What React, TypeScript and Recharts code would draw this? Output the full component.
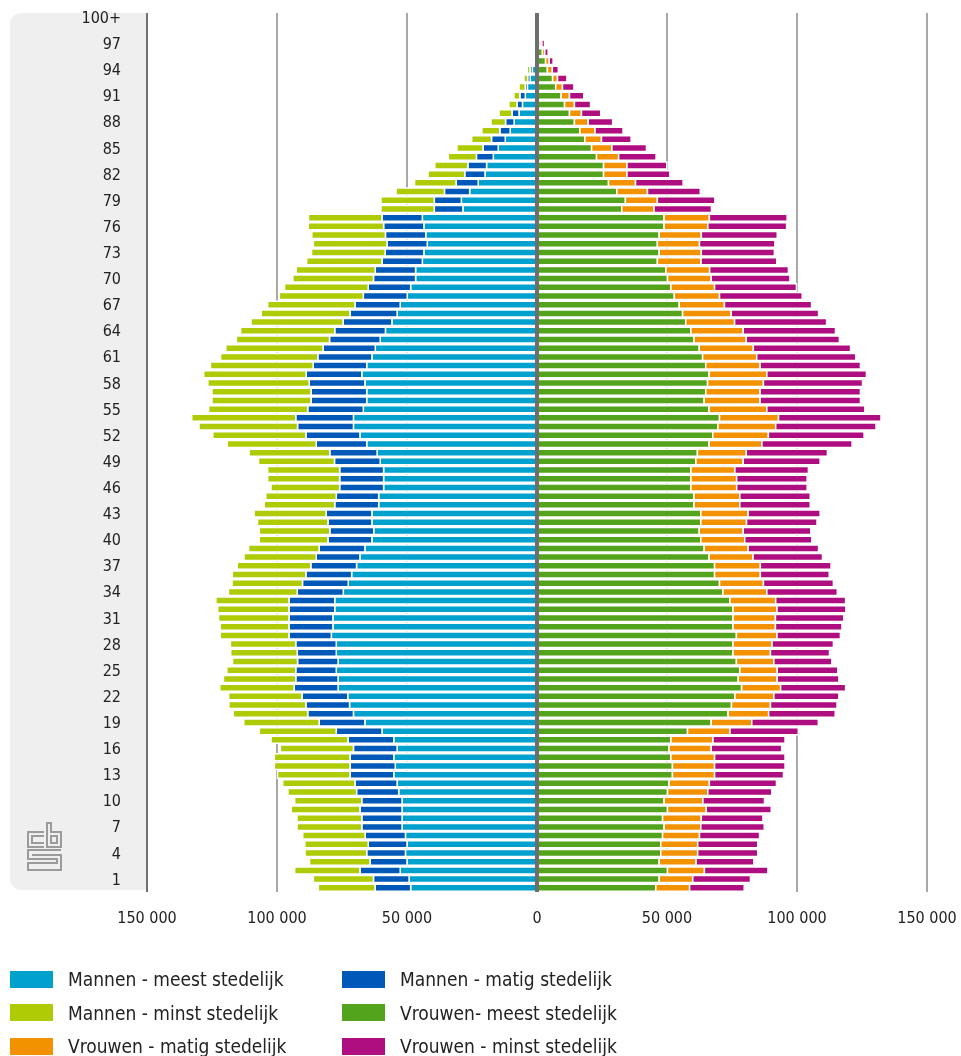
import React from "react";
import {
  BarChart,
  Bar,
  XAxis,
  YAxis,
  CartesianGrid,
  ReferenceLine,
} from "recharts";

// ages 0 .. 100+ (index = age), values in thousands
const ages: string[] = Array.from({ length: 101 }, (_, i) => (i === 100 ? "100+" : String(i)));

const mannenMeest = [
  48.6, 49.2, 52.6, 50.0, 50.6, 50.0, 50.6, 51.9, 51.9, 51.9,
  51.9, 53.2, 53.8, 55.1, 54.5, 55.1, 53.8, 55.1, 59.6, 66.2,
  70.6, 72.1, 72.8, 76.5, 76.5, 77.2, 76.5, 77.2, 77.2, 79.1,
  78.5, 78.5, 77.8, 77.8, 74.5, 72.6, 71.3, 69.4, 68.1, 66.2,
  63.5, 62.8, 63.5, 63.5, 60.9, 60.9, 59.0, 59.0, 59.0, 60.3,
  61.5, 65.5, 68.1, 70.6, 70.6, 66.8, 65.5, 65.5, 66.2, 67.4,
  65.5, 63.5, 62.2, 60.3, 58.3, 55.8, 53.8, 52.6, 49.9, 48.6,
  46.7, 46.7, 44.1, 43.5, 42.2, 42.8, 43.5, 44.1, 28.5, 29.1,
  25.9, 22.6, 20.0, 19.4, 16.8, 14.9, 12.2, 10.3, 8.8, 6.9,
  5.6, 4.5, 3.7, 2.6, 1.8, 1.0, 0.6, 0.4, 0.2, 0.1, 0.1,
];
const mannenMatig = [
  13.7, 13.7, 15.5, 14.2, 14.9, 14.9, 15.5, 15.5, 15.5, 16.2,
  15.5, 16.2, 16.2, 16.8, 17.4, 16.8, 16.8, 17.6, 17.6, 17.6,
  17.6, 16.8, 17.6, 16.9, 16.3, 15.6, 15.6, 15.0, 15.6, 16.3,
  16.9, 16.9, 17.6, 17.6, 17.7, 17.6, 17.6, 17.6, 16.8, 17.6,
  16.9, 16.9, 16.9, 17.6, 16.9, 16.3, 16.9, 16.9, 16.9, 17.6,
  18.2, 19.4, 20.8, 21.5, 22.2, 21.4, 21.4, 21.4, 21.4, 21.4,
  20.6, 20.8, 20.1, 19.5, 19.5, 18.8, 18.1, 17.4, 16.9, 16.3,
  16.2, 15.5, 15.5, 14.9, 15.5, 15.5, 15.5, 15.5, 11.0, 10.4,
  9.7, 8.5, 7.8, 7.2, 6.5, 5.9, 5.3, 4.0, 3.3, 2.7,
  2.1, 2.1, 0.8, 1.0, 0.9, 0.4, 0.2, 0.1, 0.1, 0, 0,
];
const mannenMinst = [
  21.8, 23.1, 25.1, 23.3, 23.7, 24.4, 24.0, 24.9, 24.9, 26.4,
  25.8, 26.4, 27.8, 27.9, 29.1, 29.1, 28.1, 29.6, 29.6, 29.0,
  28.6, 29.6, 28.2, 28.6, 27.8, 26.5, 25.0, 25.6, 25.1, 26.4,
  26.4, 27.1, 27.4, 28.1, 26.5, 27.1, 28.3, 28.3, 27.8, 27.1,
  26.4, 27.1, 27.1, 27.7, 27.1, 27.1, 26.4, 27.7, 27.7, 29.2,
  31.0, 34.2, 35.8, 37.9, 40.0, 38.1, 38.1, 38.1, 39.0, 39.4,
  39.5, 37.4, 37.4, 35.8, 36.2, 35.4, 34.2, 33.6, 32.3, 32.2,
  31.0, 30.4, 29.0, 28.3, 28.3, 28.3, 29.0, 28.3, 20.5, 20.5,
  18.6, 16.0, 14.1, 12.7, 10.8, 10.0, 7.6, 6.9, 5.6, 5.0,
  3.1, 2.3, 2.4, 1.4, 1.0, 0.5, 0.3, 0.2, 0.1, 0, 0,
];
const vrouwenMeest = [
  45.7, 47.0, 50.2, 47.0, 47.6, 47.6, 48.3, 48.9, 48.3, 50.2,
  48.9, 50.2, 50.8, 52.1, 52.1, 51.5, 50.8, 51.5, 57.9, 67.0,
  73.5, 74.8, 76.1, 78.7, 77.4, 78.0, 76.7, 75.4, 75.4, 76.7,
  75.4, 75.4, 75.4, 74.2, 71.5, 70.2, 68.3, 68.3, 66.2, 64.3,
  63.0, 62.4, 63.0, 63.0, 60.4, 60.4, 59.2, 59.2, 59.2, 61.1,
  61.7, 66.2, 67.6, 69.6, 70.2, 66.2, 64.3, 64.9, 65.6, 66.2,
  64.9, 63.7, 62.4, 60.4, 59.2, 57.2, 56.0, 54.7, 52.8, 51.5,
  50.2, 49.6, 46.3, 47.0, 46.3, 47.0, 48.9, 48.9, 32.6, 34.0,
  30.7, 27.5, 25.6, 25.6, 22.9, 21.0, 18.4, 16.5, 14.4, 12.5,
  10.6, 9.3, 7.2, 6.0, 4.0, 3.3, 2.1, 1.2, 0.6, 0.3, 0.3,
];
const vrouwenMatig = [
  13.0, 12.9, 14.2, 14.2, 14.2, 14.2, 14.2, 14.1, 14.9, 14.9,
  14.9, 15.5, 15.5, 16.2, 16.2, 16.8, 16.2, 16.2, 16.3, 15.6,
  15.6, 15.0, 15.0, 15.0, 15.0, 14.4, 14.4, 14.4, 15.0, 15.6,
  16.3, 16.3, 16.9, 17.6, 16.9, 16.9, 17.6, 17.6, 16.9, 16.9,
  16.9, 16.9, 17.6, 18.2, 17.6, 17.6, 17.6, 17.6, 16.9, 18.2,
  18.8, 20.3, 21.4, 22.2, 22.7, 22.2, 21.5, 20.9, 21.5, 22.2,
  20.9, 20.8, 20.8, 20.1, 20.1, 18.8, 18.7, 17.4, 17.4, 16.8,
  16.8, 16.8, 16.8, 16.2, 16.2, 16.2, 16.8, 17.4, 12.4, 12.3,
  11.8, 10.4, 9.0, 9.0, 8.5, 7.8, 6.4, 5.8, 5.3, 4.6,
  3.8, 3.2, 2.6, 1.9, 1.9, 1.4, 0.9, 0.7, 0.3, 0.2, 0.1,
];
const vrouwenMinst = [
  21.0, 22.2, 24.4, 22.2, 23.1, 23.1, 23.1, 24.4, 23.7, 25.0,
  23.7, 24.6, 25.8, 26.5, 27.1, 27.1, 27.1, 27.7, 26.3, 25.6,
  25.6, 25.6, 25.0, 25.0, 23.7, 23.3, 22.3, 22.7, 23.6, 24.4,
  25.6, 26.3, 26.5, 26.9, 27.1, 26.9, 26.5, 27.2, 26.7, 27.1,
  25.8, 26.0, 27.1, 27.7, 27.1, 27.1, 27.1, 27.1, 28.3, 29.6,
  31.2, 34.7, 36.8, 38.6, 39.4, 37.7, 38.6, 38.6, 38.1, 38.3,
  38.6, 38.1, 37.4, 35.8, 35.5, 35.4, 33.6, 33.5, 31.8, 31.5,
  30.3, 30.3, 29.1, 28.1, 29.0, 29.2, 30.3, 29.9, 22.1, 22.1,
  20.3, 18.3, 16.5, 15.3, 14.4, 13.3, 11.4, 10.8, 9.4, 7.4,
  6.2, 5.5, 4.4, 3.6, 2.3, 1.5, 1.3, 1.0, 0.4, 0.2, 0.2,
];

const xTicks = [-150, -100, -50, 0, 50, 100, 150];

const series = [
  { key: "mMeest", name: "Mannen - meest stedelijk", color: "#00a1cd" },
  { key: "mMatig", name: "Mannen - matig stedelijk", color: "#0058b8" },
  { key: "mMinst", name: "Mannen - minst stedelijk", color: "#afcb05" },
  { key: "vMeest", name: "Vrouwen- meest stedelijk", color: "#53a31d" },
  { key: "vMatig", name: "Vrouwen - matig stedelijk", color: "#f39200" },
  { key: "vMinst", name: "Vrouwen - minst stedelijk", color: "#af0e80" },
];

// top row = 100+, bottom row = 0
const data = ages
  .map((age, i) => ({
    age,
    mMeest: -mannenMeest[i],
    mMatig: -mannenMatig[i],
    mMinst: -mannenMinst[i],
    vMeest: vrouwenMeest[i],
    vMatig: vrouwenMatig[i],
    vMinst: vrouwenMinst[i],
  }))
  .reverse();

const font = "'DejaVu Sans Condensed', 'DejaVu Sans', sans-serif";

const fmt = (v: number) => (v === 0 ? "0" : `${Math.abs(v)} 000`);

const CbsLogo = () => (
  <svg
    width={36}
    height={50}
    style={{ position: "absolute", left: 19, top: 814 }}
    fill="none"
    stroke="#9b9b9b"
    strokeWidth={2}
  >
    <path d="M17 10 H1 V25 H17 M17 14 H5 V21 H17" />
    <path d="M20 1 H24 V10 H34 V25 H20 Z M24 14 H30 V21 H24 Z" />
    <path d="M34 28 H1 V37 H30 V41 H1 V48 H34 V33 H5" />
  </svg>
);

const LegendBlock = () => (
  <div style={{ position: "absolute", left: 0, top: 960, width: 700, fontFamily: font }}>
    {series.map((s, i) => {
      const col = i % 2;
      const row = Math.floor(i / 2);
      return (
        <div
          key={s.key}
          style={{
            position: "absolute",
            left: col === 0 ? 2 : 334,
            top: row * 33.5,
            height: 22,
            display: "flex",
            alignItems: "center",
            whiteSpace: "nowrap",
          }}
        >
          <span style={{ display: "inline-block", width: 43, height: 17, background: s.color }} />
          <span style={{ marginLeft: 15, fontSize: 19, color: "#222" }}>{s.name}</span>
        </div>
      );
    })}
  </div>
);

export default function App() {
  // fixed so the legend cut off at the bottom does not add a scrollbar
  return (
    <div style={{ position: "fixed", left: 8, top: 8, width: 953, height: 1048 }}>
      <div
        style={{
          position: "absolute",
          left: 1.5,
          top: 5,
          width: 138,
          height: 877,
          background: "#efefef",
          borderRadius: "11px 0 0 11px",
        }}
      />
      <CbsLogo />
      <div style={{ position: "absolute", left: 0, top: 0 }}>
        <BarChart
          width={953}
          height={930}
          data={data}
          layout="vertical"
          stackOffset="sign"
          barSize={7}
          margin={{ top: 5, right: 34, left: 0, bottom: 6 }}
        >
          <CartesianGrid horizontal={false} stroke="#a8a8a8" strokeWidth={2} />
          <XAxis
            type="number"
            domain={[-150, 150]}
            ticks={xTicks}
            tickFormatter={fmt}
            axisLine={false}
            tickLine={false}
            tickMargin={14}
            height={40}
            tick={{ fill: "#222", fontSize: 16, fontFamily: font }}
          />
          <YAxis
            type="category"
            dataKey="age"
            interval={2}
            width={139}
            tickLine={false}
            tickMargin={20}
            axisLine={{ stroke: "#707070", strokeWidth: 2 }}
            tick={{ fill: "#222", fontSize: 16, fontFamily: font }}
          />
          {series.map((s) => (
            <Bar
              key={s.key}
              dataKey={s.key}
              name={s.name}
              stackId="a"
              fill={s.color}
              stroke="#fff"
              strokeWidth={1.5}
              isAnimationActive={false}
            />
          ))}
          <ReferenceLine x={0} stroke="#6e6e6e" strokeWidth={4} />
        </BarChart>
      </div>
      <LegendBlock />
    </div>
  );
}
